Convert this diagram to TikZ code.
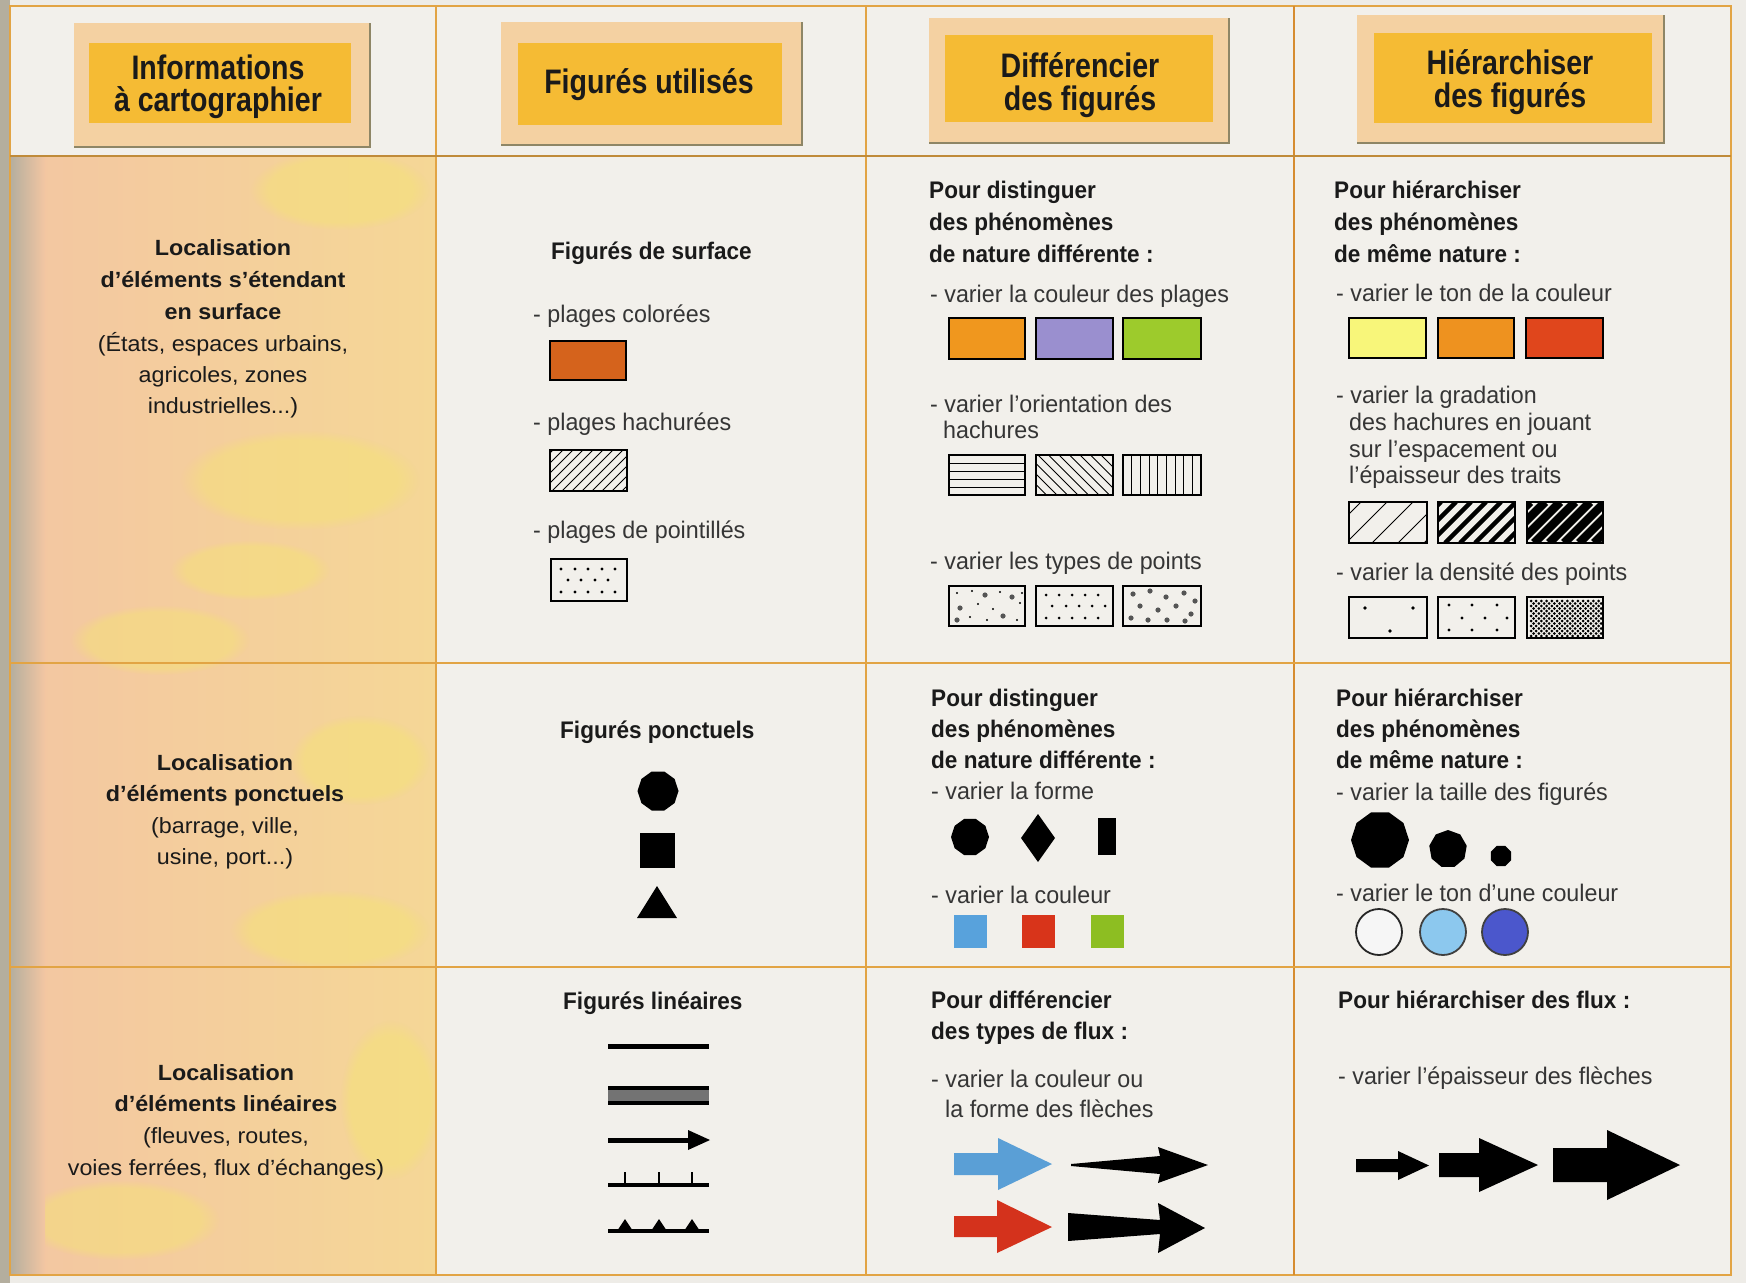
\documentclass[tikz,border=0pt]{standalone}
\usepackage{fontspec}
\setmainfont{Liberation Sans}
\newfontfamily\bodyr{Liberation Sans}[FakeStretch=0.97]
\newfontfamily\bodyb{Liberation Sans}[FakeStretch=0.94]
\newfontfamily\headf{Liberation Sans}[FakeStretch=0.84]
\newfontfamily\leftf{Liberation Sans}[FakeStretch=1.06]
\usetikzlibrary{shapes.geometric,fadings}
\definecolor{pagebg}{HTML}{EEECE7}
\definecolor{cellbg}{HTML}{F2F0EB}
\definecolor{gridc}{HTML}{E2A444}
\definecolor{gridd}{HTML}{D68C30}
\definecolor{peachA}{HTML}{F3C6A2}
\definecolor{peachB}{HTML}{F5D796}
\definecolor{yel}{HTML}{F4E472}
\definecolor{edgegrey}{HTML}{B4AE9E}
\definecolor{hframe}{HTML}{F4D1A2}
\definecolor{hgold}{HTML}{F5BB34}
\definecolor{hshadow}{HTML}{8E8666}
\definecolor{txtdark}{HTML}{1A1A1A}
\definecolor{txtgrey}{HTML}{353535}
\definecolor{orA}{HTML}{D5631C}
\definecolor{orB}{HTML}{F0971E}
\definecolor{lavB}{HTML}{9A8FCF}
\definecolor{grB}{HTML}{9DCB2C}
\definecolor{yeC}{HTML}{F8F67A}
\definecolor{orC}{HTML}{EE921F}
\definecolor{reC}{HTML}{E0461C}
\definecolor{blD}{HTML}{58A2DC}
\definecolor{reD}{HTML}{D8341A}
\definecolor{grD}{HTML}{8DBE22}
\definecolor{ciW}{HTML}{F6F6F6}
\definecolor{ciL}{HTML}{8CC8EE}
\definecolor{ciB}{HTML}{4B57CC}
\definecolor{arBlue}{HTML}{5A9FD6}
\definecolor{arRed}{HTML}{D4321C}
\definecolor{dotgrey}{HTML}{555555}
\tikzset{
  bt/.style={inner sep=0, anchor=base west, font=\bodyb\bfseries\fontsize{24}{28}\selectfont, text=txtdark},
  rt/.style={inner sep=0, anchor=base west, font=\bodyr\fontsize{24}{28}\selectfont, text=txtgrey},
  hd/.style={inner sep=0, anchor=base, font=\headf\bfseries\fontsize{34}{40}\selectfont, text=txtdark},
  lb/.style={inner sep=0, anchor=base, font=\leftf\bfseries\fontsize{22}{26}\selectfont, text=txtdark},
  lr/.style={inner sep=0, anchor=base, font=\leftf\fontsize{22}{26}\selectfont, text=txtdark},
  swatch/.style={draw=black, line width=1.8},
  gridline/.style={draw=gridc, line width=2.5},
  hl/.style={line width=1, black},
  blob/.style={fill=yel, path fading=circle with fuzzy edge 20 percent, fill opacity=0.45},
}
\newcommand\headbox[8]{%
  \fill[hframe] (#1,#2) rectangle (#3,#4);
  \fill[hgold] (#5,#6) rectangle (#7,#8);
  \draw[hshadow, line width=2] (#1,#4) -- (#3,#4) -- (#3,#2);
}
\begin{document}
\begin{tikzpicture}[x=1pt,y=-1pt]
\useasboundingbox (0,0) rectangle (1746,1283);
% backgrounds
\fill[pagebg] (0,0) rectangle (1746,1283);
\fill[cellbg] (10,6) rectangle (1731,1275);
\shade[left color=peachA, right color=peachB] (10,156) rectangle (436,1275);
\begin{scope}
\clip (10,156) rectangle (436,1275);
\fill[blob] (340,190) ellipse (90 and 40);
\fill[blob] (300,480) ellipse (120 and 50);
\fill[blob] (160,640) ellipse (90 and 35);
\fill[blob] (360,760) ellipse (70 and 45);
\fill[blob] (330,930) ellipse (100 and 40);
\fill[blob] (120,1220) ellipse (100 and 40);
\fill[blob] (390,1100) ellipse (50 and 80);
\fill[blob] (250,570) ellipse (80 and 30);
\end{scope}
\shade[left color=edgegrey, right color=peachA] (10,156) rectangle (45,1275);
\fill[edgegrey] (0,0) rectangle (10,1283);
% grid
\draw[gridline] (10,6) rectangle (1731,1275);
\draw[gridline] (436,6) -- (436,1275);
\draw[gridline] (866,6) -- (866,1275);
\draw[gridline, draw=gridd] (1294,6) -- (1294,1275);
\draw[gridline, draw=gridc!85!black] (10,156) -- (1731,156);
\draw[gridline] (10,663) -- (1731,663);
\draw[gridline] (10,967) -- (1731,967);
% header boxes
\headbox{74}{23}{370}{147}{89}{43}{351}{123}
\headbox{501}{22}{802}{145}{518}{43}{782}{125}
\headbox{929}{18}{1229}{143}{945}{35}{1213}{122}
\headbox{1357}{15}{1664}{143}{1374}{33}{1652}{123}
\node[hd] (h1a) at (218,79) {Informations};
\node[hd] (h1b) at (218,111) {à cartographier};
\node[hd] (h2) at (649,93) {Figurés utilisés};
\node[hd] (h3a) at (1080,77) {Différencier};
\node[hd] (h3b) at (1080,110) {des figurés};
\node[hd] (h4a) at (1510,74) {Hiérarchiser};
\node[hd] (h4b) at (1510,107) {des figurés};
% left column texts
\node[lb] (l1a) at (223,255) {Localisation};
\node[lb] (l1b) at (223,287) {d’éléments s’étendant};
\node[lb] (l1c) at (223,319) {en surface};
\node[lr] (l1d) at (223,351) {(États, espaces urbains,};
\node[lr] (l1e) at (223,382) {agricoles, zones};
\node[lr] (l1f) at (223,413) {industrielles...)};
\node[lb] (l2a) at (225,770) {Localisation};
\node[lb] (l2b) at (225,801) {d’éléments ponctuels};
\node[lr] (l2c) at (225,833) {(barrage, ville,};
\node[lr] (l2d) at (225,864) {usine, port...)};
\node[lb] (l3a) at (226,1080) {Localisation};
\node[lb] (l3b) at (226,1111) {d’éléments linéaires};
\node[lr] (l3c) at (226,1143) {(fleuves, routes,};
\node[lr] (l3d) at (226,1175) {voies ferrées, flux d’échanges)};
% ---------- column 2 ----------
\node[bt] (s0) at (551,259) {Figurés de surface};
\node[rt] (s1) at (533,322) {- plages colorées};
\fill[orA] (550,341) rectangle (626,380);
\draw[swatch] (550,341) rectangle (626,380);
\node[rt] (s2) at (533,430) {- plages hachurées};
\begin{scope}
\clip (550,450) rectangle (627,491);
\foreach \i in {0,...,11} \draw[hl] ({512+\i*10},491) -- ({553+\i*10},450);
\end{scope}
\draw[swatch] (550,450) rectangle (627,491);
\node[rt] (s3) at (533,538) {- plages de pointillés};
\draw[swatch] (551,559) rectangle (627,601);
\foreach \x in {561,575,588,602,615} {\fill (\x,569) circle (1.6); \fill (\x,592) circle (1.6);}
\foreach \x in {568,581,595,608} {\fill (\x,580) circle (1.6);}
\node[bt] (p0) at (560,738) {Figurés ponctuels};
\node[regular polygon, regular polygon sides=10, fill=black, minimum size=41, inner sep=0] (pc) at (658,791) {};
\fill[black] (640,833) rectangle (675,868);
\fill[black] (637,918) -- (677,918) -- (657,886) -- cycle;
\node[bt] (n0) at (563,1009) {Figurés linéaires};
\draw[line width=5] (608,1046) -- (709,1046);
\fill[black!55] (608,1089) rectangle (709,1102);
\draw[line width=3.5] (608,1088) -- (709,1088);
\draw[line width=3.5] (608,1103) -- (709,1103);
\draw[line width=5] (608,1140) -- (694,1140);
\fill (688,1130) -- (710,1140) -- (688,1150) -- cycle;
\draw[line width=3.5] (608,1185) -- (709,1185);
\foreach \x in {625,659,692} \draw[line width=2] (\x,1185) -- (\x,1172);
\draw[line width=4] (608,1231) -- (709,1231);
\foreach \x in {625,659,692} \fill (\x-8,1231) -- (\x,1219) -- (\x+8,1231) -- cycle;
% ---------- column 3 ----------
\node[bt] (a1) at (929,198) {Pour distinguer};
\node[bt] (a2) at (929,230) {des phénomènes};
\node[bt] (a3) at (929,262) {de nature différente :};
\node[rt] (a4) at (930,302) {- varier la couleur des plages};
\fill[orB] (949,318) rectangle (1025,359);
\fill[lavB] (1036,318) rectangle (1113,359);
\fill[grB] (1123,318) rectangle (1201,359);
\draw[swatch] (949,318) rectangle (1025,359);
\draw[swatch] (1036,318) rectangle (1113,359);
\draw[swatch] (1123,318) rectangle (1201,359);
\node[rt] (a5) at (930,412) {- varier l’orientation des};
\node[rt] (a6) at (943,438) {hachures};
\foreach \y in {463,471,479,487} \draw[hl] (949,\y) -- (1025,\y);
\begin{scope}
\clip (1036,455) rectangle (1113,495);
\foreach \i in {0,...,11} \draw[hl] ({996+\i*10.5},455) -- ({1036+\i*10.5},495);
\end{scope}
\foreach \i in {1,...,8} \draw[hl] ({1123+\i*8.7},455) -- ({1123+\i*8.7},495);
\draw[swatch] (949,455) rectangle (1025,495);
\draw[swatch] (1036,455) rectangle (1113,495);
\draw[swatch] (1123,455) rectangle (1201,495);
\node[rt] (a7) at (930,569) {- varier les types de points};
\draw[swatch] (949,586) rectangle (1025,626);
\draw[swatch] (1036,586) rectangle (1113,626);
\draw[swatch] (1123,586) rectangle (1201,626);
\foreach \p in {(957,593),(972,591),(1000,592),(978,604),(993,609),(1020,603),(970,617),(987,620),(1017,620),(1022,593)} \fill \p circle (1.2);
\foreach \p in {(985,595),(1012,597),(960,608),(1003,616),(957,620)} \fill[dotgrey] \p circle (2.6);
\foreach \x in {1046,1059,1072,1085,1098} {\fill (\x,595) circle (1.5); \fill (\x,618) circle (1.5);}
\foreach \x in {1052,1066,1079,1092,1105} {\fill (\x,606) circle (1.5);}
\foreach \p in {(1133,594),(1150,591),(1166,597),(1184,593),(1195,601),(1140,606),(1158,610),(1176,606),(1191,614),(1131,618),(1148,620),(1167,620),(1185,621)} \fill[dotgrey] \p circle (2.6);
% row 2 col 3
\node[bt] (b1) at (931,706) {Pour distinguer};
\node[bt] (b2) at (931,737) {des phénomènes};
\node[bt] (b3) at (931,768) {de nature différente :};
\node[rt] (b4) at (931,799) {- varier la forme};
\node[regular polygon, regular polygon sides=10, fill=black, minimum size=38, inner sep=0] (bc) at (970,837) {};
\fill[black] (1038,814) -- (1055,838) -- (1038,862) -- (1021,838) -- cycle;
\fill[black] (1098,818) rectangle (1116,855);
\node[rt] (b5) at (931,903) {- varier la couleur};
\fill[blD] (954,915) rectangle (987,948);
\fill[reD] (1022,915) rectangle (1055,948);
\fill[grD] (1091,915) rectangle (1124,948);
% row 3 col 3
\node[bt] (c1) at (931,1008) {Pour différencier};
\node[bt] (c2) at (931,1039) {des types de flux :};
\node[rt] (c3) at (931,1087) {- varier la couleur ou};
\node[rt] (c4) at (945,1117) {la forme des flèches};
\fill[arBlue] (954,1153) -- (998,1153) -- (998,1138) -- (1052,1164) -- (998,1190) -- (998,1175) -- (954,1175) -- cycle;
\fill[black] (1071,1164) -- (1160,1156) -- (1158,1147) -- (1208,1165) -- (1158,1183) -- (1160,1174) -- (1071,1166) -- cycle;
\fill[arRed] (954,1216) -- (997,1216) -- (997,1200) -- (1052,1227) -- (997,1253) -- (997,1237) -- (954,1237) -- cycle;
\fill[black] (1068,1213) -- (1160,1220) -- (1158,1203) -- (1205,1228) -- (1158,1253) -- (1160,1234) -- (1068,1241) -- cycle;
% ---------- column 4 ----------
\node[bt] (d1) at (1334,198) {Pour hiérarchiser};
\node[bt] (d2) at (1334,230) {des phénomènes};
\node[bt] (d3) at (1334,262) {de même nature :};
\node[rt] (d4) at (1336,301) {- varier le ton de la couleur};
\fill[yeC] (1349,318) rectangle (1426,358);
\fill[orC] (1438,318) rectangle (1514,358);
\fill[reC] (1526,318) rectangle (1603,358);
\draw[swatch] (1349,318) rectangle (1426,358);
\draw[swatch] (1438,318) rectangle (1514,358);
\draw[swatch] (1526,318) rectangle (1603,358);
\node[rt] (d5) at (1336,403) {- varier la gradation};
\node[rt] (d6) at (1349,430) {des hachures en jouant};
\node[rt] (d7) at (1349,457) {sur l’espacement ou};
\node[rt] (d8) at (1349,483) {l’épaisseur des traits};
\begin{scope}
\clip (1349,502) rectangle (1427,543);
\foreach \i in {0,...,4} \draw[hl] ({1320+\i*26},543) -- ({1361+\i*26},502);
\end{scope}
\begin{scope}
\clip (1438,502) rectangle (1515,543);
\foreach \i in {0,...,8} \draw[line width=4.5] ({1400+\i*15},543) -- ({1441+\i*15},502);
\end{scope}
\begin{scope}
\clip (1527,502) rectangle (1603,543);
\foreach \i in {0,...,8} \draw[line width=8.5] ({1489+\i*15},543) -- ({1530+\i*15},502);
\end{scope}
\draw[swatch] (1349,502) rectangle (1427,543);
\draw[swatch] (1438,502) rectangle (1515,543);
\draw[swatch] (1527,502) rectangle (1603,543);
\node[rt] (d9) at (1336,580) {- varier la densité des points};
\draw[swatch] (1349,597) rectangle (1427,638);
\draw[swatch] (1438,597) rectangle (1515,638);
\draw[swatch] (1527,597) rectangle (1603,638);
\foreach \p in {(1365,608),(1413,608),(1390,631)} \fill \p circle (1.8);
\foreach \p in {(1449,605),(1472,605),(1497,605),(1462,618),(1485,618),(1507,618),(1449,630),(1472,630),(1497,630)} \fill \p circle (1.6);
\begin{scope}
\clip (1528,598) rectangle (1602,637);
\foreach \i in {0,...,14} \foreach \j in {0,...,7} {
  \fill ({1531+\i*5.2},{601+\j*5}) circle (1.5);
  \fill ({1533.6+\i*5.2},{603.5+\j*5}) circle (1.5);
}
\end{scope}
% row 2 col 4
\node[bt] (e1) at (1336,706) {Pour hiérarchiser};
\node[bt] (e2) at (1336,737) {des phénomènes};
\node[bt] (e3) at (1336,768) {de même nature :};
\node[rt] (e4) at (1336,800) {- varier la taille des figurés};
\node[regular polygon, regular polygon sides=10, fill=black, minimum size=58, inner sep=0] (ec1) at (1380,840) {};
\node[regular polygon, regular polygon sides=9, fill=black, minimum size=38, inner sep=0] (ec2) at (1448,849) {};
\node[regular polygon, regular polygon sides=8, fill=black, minimum size=22, inner sep=0] (ec3) at (1501,856) {};
\node[rt] (e5) at (1336,901) {- varier le ton d’une couleur};
\filldraw[fill=ciW, draw=black!85, line width=1.8] (1379,932) circle (23);
\filldraw[fill=ciL, draw=black!75, line width=1.8] (1443,932) circle (23);
\filldraw[fill=ciB, draw=black!75, line width=1.8] (1505,932) circle (23);
% row 3 col 4
\node[bt] (f1) at (1338,1008) {Pour hiérarchiser des flux :};
\node[rt] (f2) at (1338,1084) {- varier l’épaisseur des flèches};
\fill[black] (1356,1159) -- (1398,1159) -- (1398,1151) -- (1429,1165.5) -- (1398,1180) -- (1398,1172) -- (1356,1172) -- cycle;
\fill[black] (1439,1153) -- (1479,1153) -- (1479,1138) -- (1538,1165) -- (1479,1192) -- (1479,1177) -- (1439,1177) -- cycle;
\fill[black] (1553,1148) -- (1607,1148) -- (1607,1130) -- (1680,1165) -- (1607,1200) -- (1607,1182) -- (1553,1182) -- cycle;
\end{tikzpicture}
\end{document}
